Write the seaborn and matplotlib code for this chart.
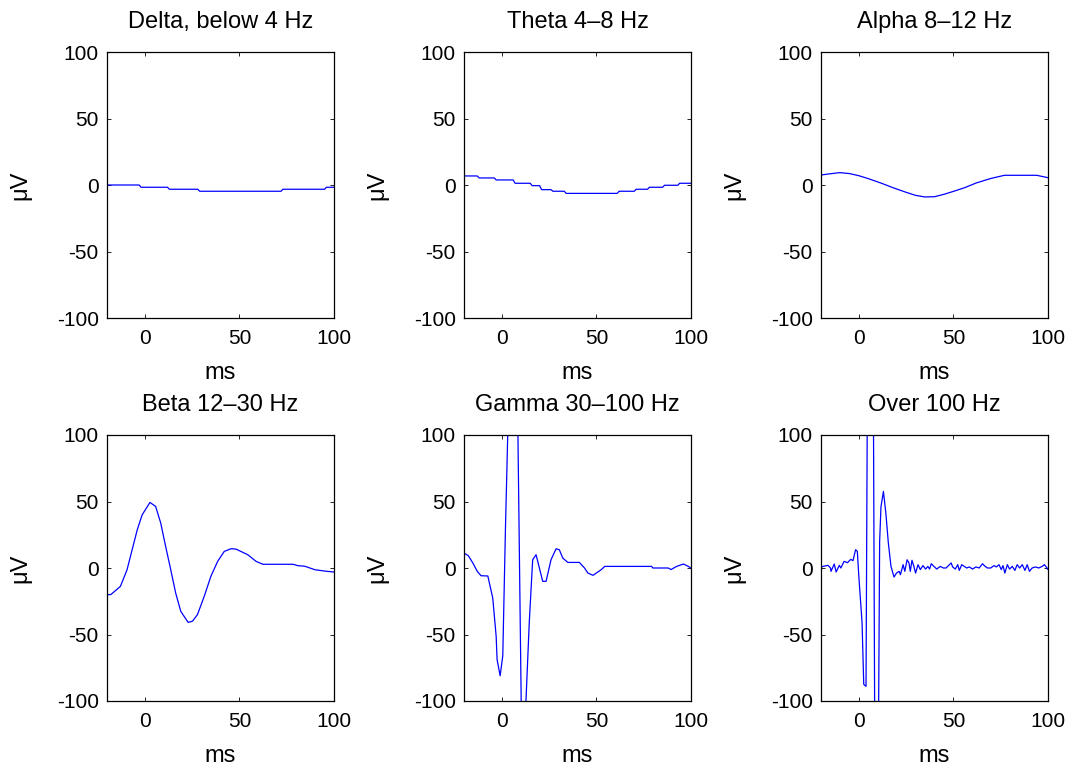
import numpy as np
import pandas as pd
import matplotlib
matplotlib.use('Agg')
import matplotlib.pyplot as plt
import seaborn as sns

titles = ['Delta, below 4 Hz', 'Theta 4\u20138 Hz', 'Alpha 8\u201312 Hz',
          'Beta 12\u201330 Hz', 'Gamma 30\u2013100 Hz', 'Over 100 Hz']

delta_ms = [-20, -3, -2, 12, 13, 28, 29, 72, 73, 95, 96, 100]
delta_uv = [0, 0, -1.7, -1.7, -3.2, -3.2, -4.7, -4.7, -3.2, -3.2, -1.7, -1.7]

theta_ms = [-20, -13, -12, -4, -3, 6, 7, 15, 16, 20, 21, 26, 27, 33, 34, 61, 62, 70, 71, 77, 78, 85, 86, 93, 94, 100]
theta_uv = [6.8, 6.8, 5.3, 5.3, 3.8, 3.8, 1.3, 1.3, -0.5, -0.5, -3.5, -3.5, -4.7, -4.7, -6.3, -6.3, -4.7, -4.7, -3.2,
            -3.2, -1.7, -1.7, -0.2, -0.2, 1.3, 1.3]

alpha_ms = [-20, -16, -10, -5, 0, 5, 12, 18, 25, 30, 35, 40, 45, 50, 56, 62, 70, 77, 94, 100]
alpha_uv = [7.5, 8.3, 9.3, 8.6, 7.0, 4.8, 1.3, -2.0, -5.5, -7.8, -9.0, -8.8, -7.0, -4.8, -2.0, 1.5, 5.0, 7.3, 7.3, 5.5]

beta_ms = [-20, -18, -12.9, -9.4, -6.7, -4.0, -1.4, 2.7, 5.7, 8.4, 11.0, 13.7, 16.3, 19.0, 22.9, 25.2, 27.8, 31.4,
           34.9, 38.5, 42.0, 45.6, 48.2, 54.4, 58.8, 62.4, 78.4, 80.7, 84.6, 89.9, 96.1, 100]
beta_uv = [-20, -20, -13.8, -1.3, 13.8, 28.8, 40, 49.3, 46.3, 33.8, 16.2, -1.3, -18.8, -32.6, -40.9, -40, -35.1,
           -21.3, -6.3, 5, 12.5, 14.5, 14.2, 10, 5, 2.8, 2.8, 1.8, 1.3, -1.3, -2.5, -3]

gamma_ms = [-20, -17.7, -15.3, -13.0, -11.0, -7.4, -4.8, -3.0, -2.5, -0.9, 0.5, 1.9, 6.7, 10.8, 14.5, 16.3, 18.1,
            21.6, 23.4, 26.0, 28.7, 30.4, 32.2, 34.9, 41, 43.7, 45.5, 48.2, 52.6, 54.4, 79.2, 79.8, 88, 89.4, 92.4,
            96, 98.6, 100]
gamma_uv = [11.3, 9.2, 3.7, -2.5, -5.8, -6, -22.6, -51.4, -69, -81, -66, 28.8, 310, -166, -41, 6.2, 10, -10, -10,
            6.2, 14.5, 13.7, 7.5, 4.2, 4.2, 0, -3.8, -5.5, -1.2, 1.2, 1.2, 0, 0, -1.2, 1.2, 3, 1.2, 0]

over_ms = [-20, -19, -16.3, -15, -14.7, -13, -12, -10.3, -9.5, -7.8, -6, -4.3, -3.1, -1.7, -0.8, 0, 1.7, 2.6, 3.8,
           6.2, 9.2, 11.0, 11.7, 13, 14.3, 15.6, 17, 18.6, 19.9, 21.3, 22, 23.4, 24.3, 25.5, 26.5, 27.2, 28.1,
           29.1, 30, 31.3, 32.5, 33.9, 35.3, 36.5, 37.4, 38.3, 39.7, 41.2, 43, 44.7, 46.1, 47.9, 48.8, 49.6, 51,
           52.3, 53.1, 54.4, 55.8, 57, 58.4, 60.1, 61.9, 63.6, 65.4, 66.8, 68, 69.7, 71.5, 72.7, 74.1, 75.3, 76.2,
           77.2, 78.5, 79.7, 81.1, 82.5, 83.7, 85, 86.4, 87.8, 89, 90.2, 91.6, 93.4, 95.1, 96.9, 98.1, 99.5, 100]
over_uv = [0.5, 1.2, 2, 0, -2.5, 3, -3, 2, 0, 5, 4, 6.5, 5.5, 13.8, 12.5, -6.3, -41, -87.5, -89, 650, -400, 20, 46,
           57.6, 41, 18.8, 1.2, -6.8, -3.8, -2.5, -5, 2.5, -2.5, 6.2, 3.8, -2.5, 5.8, 1.2, -3.8, 2.5, -1.2, 1.8,
           -0.8, 1.2, -0.8, 3.2, 1.2, -0.8, 1.2, 0, 0, 2.5, 3.8, 0.8, -0.8, 2.5, -1.8, 2.5, 1.2, 0, 0.8, -0.8, 0.8,
           0, 3.2, 1.2, 0, 0, 1.8, 0.8, 2.5, -1.2, 1.8, -3.8, 2.5, -0.8, 1.2, -1.8, 2.5, 0, 2.5, -1.8, 2.5, -2.5,
           0, 0.8, 0, 1.2, 2.5, 0, -1.2]

series = [(delta_ms, delta_uv), (theta_ms, theta_uv), (alpha_ms, alpha_uv),
          (beta_ms, beta_uv), (gamma_ms, gamma_uv), (over_ms, over_uv)]

sns.set_style('ticks')
plt.rcParams['font.family'] = ['Liberation Sans', 'DejaVu Sans']
plt.rcParams['font.size'] = 13
plt.rcParams['text.color'] = 'black'
plt.rcParams['axes.labelcolor'] = 'black'
plt.rcParams['xtick.direction'] = 'in'
plt.rcParams['ytick.direction'] = 'in'

fig = plt.figure(figsize=(10.76, 7.65), dpi=100)

W, H = 1076, 765
lefts = [107, 464, 821]
bottoms = [318, 701]
aw, ah = 227, 266

for i, (title, (xs, ys)) in enumerate(zip(titles, series)):
    r, c = divmod(i, 3)
    ax = fig.add_axes([lefts[c] / W, 1 - bottoms[r] / H, aw / W, ah / H])
    df = pd.DataFrame({'ms': xs, 'uV': ys})
    sns.lineplot(data=df, x='ms', y='uV', ax=ax, color='#0000ff', lw=0.9, estimator=None, sort=False)
    ax.set_xlim(-20, 100)
    ax.set_ylim(-100, 100)
    ax.set_xticks([0, 50, 100])
    ax.set_yticks([-100, -50, 0, 50, 100])
    ax.set_yticklabels(['-100', '-50', '0', '50', '100'])
    ax.tick_params(top=True, right=True, length=3, width=0.6, labelsize=15, colors='black')
    ax.tick_params(axis='x', pad=8)
    ax.tick_params(axis='y', pad=6)
    for sp in ax.spines.values():
        sp.set_linewidth(0.9)
        sp.set_color('black')
    ax.set_title(title, fontsize=17, pad=17.5, color='black')
    ax.set_xlabel('ms', fontsize=17, labelpad=10)
    ax.set_ylabel('\u03bcV', fontsize=17, labelpad=18)

fig.savefig('out.png', dpi=100)
